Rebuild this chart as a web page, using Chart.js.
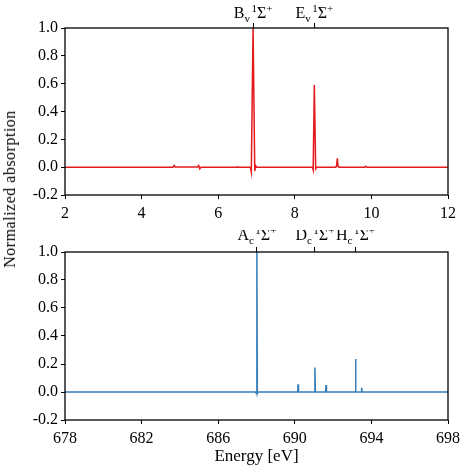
<!DOCTYPE html>
<html>
<head>
<meta charset="utf-8">
<script src="https://cdn.jsdelivr.net/npm/chart.js@4"></script>
<style>
  html, body { margin: 0; padding: 0; background: #fff; }
  #wrap { position: relative; width: 467px; height: 467px; overflow: hidden; }
  canvas { position: absolute; left: 0; }
  #ylab {
    position: absolute; left: 10px; top: 189px;
    transform: translate(-50%, -50%) rotate(-90deg);
    font: 16px "Liberation Serif", serif; letter-spacing: 0.5px;
    white-space: nowrap; color: #000;
  }
</style>
</head>
<body>
<div id="wrap">
  <canvas id="vis" width="467" height="235" style="top:0"></canvas>
  <canvas id="core" width="467" height="237" style="top:230px"></canvas>
  <div id="ylab">Normalized absorption</div>
</div>
<script>
// Valence spectrum (top panel)
const visEnergy = [2.0, 3.85, 4.82, 4.85, 4.88, 5.46, 5.49, 5.52, 5.55, 6.48, 6.50, 6.52, 6.84,
                   6.865, 6.91, 6.955, 6.975, 7.0, 8.46, 8.48, 8.51, 8.545, 8.57,
                   9.07, 9.09, 9.11, 9.13, 9.16, 9.82, 9.85, 9.88, 12.0];
const visAbs    = [0, 0, 0, 0.012, 0.002, 0.002, 0.012, -0.012, 0, 0, 0.003, 0, 0,
                   -0.035, 1.0, -0.028, 0.012, 0, 0, -0.02, 0.59, -0.012, 0,
                   0, 0.01, 0.063, 0.005, 0, 0, 0.006, 0, 0];
const visMarks  = [6.91, 8.51];
const visNames  = ["B", "E"];

// Core spectrum (bottom panel)
const coreEnergy = [678, 687.96, 687.99, 688.02, 688.045, 688.08, 690.145, 690.17, 690.195,
                    691.025, 691.05, 691.075, 691.605, 691.63, 691.655, 693.145, 693.17, 693.195,
                    693.465, 693.49, 693.515, 698];
const coreAbs    = [0, 0, -0.01, 1.0, -0.012, 0, 0, 0.055, 0,
                    0, 0.175, 0, 0, 0.05, 0, 0, 0.235, 0,
                    0, 0.03, 0, 0];
const coreMarks  = [688.02, 691.05, 693.17];
const coreNames  = ["A", "D", "H"];

const yTicks = [-0.2, 0.0, 0.2, 0.4, 0.6, 0.8, 1.0];
const FONT = "Liberation Serif";

const frame = {
  id: 'frame',
  afterDraw(chart) {
    const a = chart.chartArea, ctx = chart.ctx;
    ctx.save();
    ctx.strokeStyle = '#000';
    ctx.lineWidth = 1.3;
    ctx.strokeRect(a.left, a.top, a.right - a.left, a.bottom - a.top);
    ctx.restore();
  }
};

// State labels like "B_v 1Σ+" drawn above the top ticks
const stateLabels = {
  id: 'stateLabels',
  afterDraw(chart, args, opts) {
    const ctx = chart.ctx, sc = chart.scales.xt;
    ctx.save();
    ctx.fillStyle = '#000';
    ctx.textBaseline = 'alphabetic';
    opts.marks.forEach((v, i) => {
      const parts = [
        [opts.names[i], 16, 0], [opts.sub, 11, 4], [' ', 6, 0],
        ['1', 11, -6], ['Σ', 16, 0], ['+', 11, -6]
      ];
      let w = 0;
      parts.forEach(p => { ctx.font = p[1] + 'px "' + FONT + '"'; w += ctx.measureText(p[0]).width; });
      let x = sc.getPixelForValue(v) - w / 2;
      parts.forEach(p => {
        ctx.font = p[1] + 'px "' + FONT + '"';
        ctx.fillText(p[0], x, opts.baseline + p[2]);
        x += ctx.measureText(p[0]).width;
      });
    });
    ctx.restore();
  }
};

function makeChart(id, xs, ys, color, xmin, xmax, step, marks, names, sub, opt) {
  const tickFont = { family: FONT, size: 16 };
  return new Chart(document.getElementById(id), {
    type: 'line',
    data: {
      datasets: [{
        data: xs.map((x, i) => ({ x: x, y: ys[i] })),
        borderColor: color,
        borderWidth: 1.5,
        pointRadius: 0,
        tension: 0,
        fill: false
      }]
    },
    plugins: [frame, stateLabels],
    options: {
      responsive: false,
      animation: false,
      devicePixelRatio: 1,
      layout: { padding: { left: 0, right: 19, top: 0, bottom: 0 } },
      plugins: {
        legend: { display: false },
        tooltip: { enabled: false },
        stateLabels: { marks: marks, names: names, sub: sub, baseline: opt.labelBase }
      },
      scales: {
        x: {
          type: 'linear', position: 'bottom', min: xmin, max: xmax,
          afterBuildTicks: s => { s.ticks = []; for (let v = xmin; v <= xmax; v += step) s.ticks.push({ value: v }); },
          ticks: { font: tickFont, color: '#000', padding: 5, maxRotation: 0, callback: v => String(v) },
          grid: { drawOnChartArea: false, tickLength: 4, color: '#000', lineWidth: 1 },
          border: { display: false },
          title: { display: !!opt.xTitle, text: opt.xTitle || '', font: { family: FONT, size: 17 }, color: '#000', padding: 0 },
          afterFit: s => { s.height = opt.bottomH; }
        },
        xt: {
          type: 'linear', position: 'top', min: xmin, max: xmax,
          afterBuildTicks: s => { s.ticks = marks.map(v => ({ value: v })); },
          ticks: { display: false },
          grid: { drawOnChartArea: false, tickLength: 5, color: '#000', lineWidth: 1 },
          border: { display: false },
          afterFit: s => { s.height = opt.topH; }
        },
        y: {
          min: -0.2, max: 1.0,
          afterBuildTicks: s => { s.ticks = yTicks.map(v => ({ value: v })); },
          ticks: { font: tickFont, color: '#000', padding: 3, callback: v => v.toFixed(1) },
          grid: { drawOnChartArea: false, tickLength: 4, color: '#000', lineWidth: 1 },
          border: { display: false },
          afterFit: s => { s.width = 65; }
        }
      }
    }
  });
}

makeChart('vis', visEnergy, visAbs, '#e41a1c', 2, 12, 2, visMarks, visNames, 'v',
          { topH: 28, bottomH: 40, labelBase: 18 });
makeChart('core', coreEnergy, coreAbs, '#377eb8', 678, 698, 4, coreMarks, coreNames, 'c',
          { topH: 22, bottomH: 47, labelBase: 10, xTitle: 'Energy [eV]' });
</script>
</body>
</html>
